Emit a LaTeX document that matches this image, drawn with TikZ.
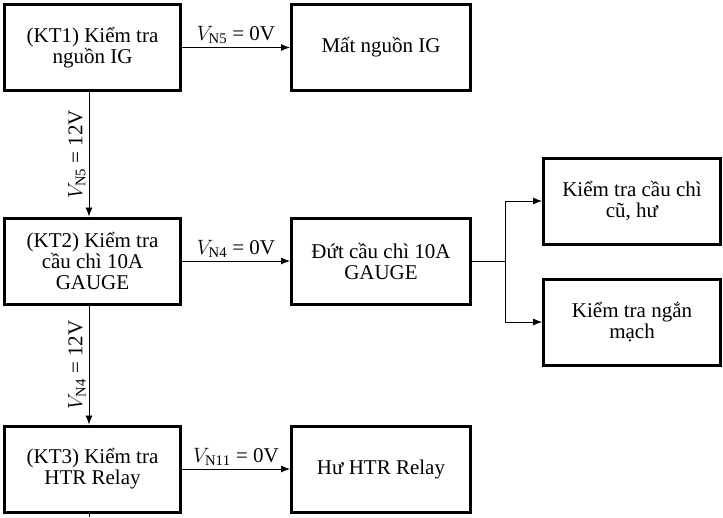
\documentclass[tikz,border=0pt]{standalone}
\usepackage{fontspec}
\setmainfont{Liberation Serif}
\usetikzlibrary{arrows.meta}

\begin{document}
\begin{tikzpicture}[x=1pt, y=-1pt,
  hop/.style={draw, line width=3pt, minimum width=177pt, minimum height=86pt, align=center, inner sep=2pt, font=\fontsize{21}{21}\selectfont},
  mui/.style={-{Latex[length=9pt,width=7pt]}, line width=0.8pt},
  nhan/.style={font=\fontsize{21}{21}\selectfont, inner sep=3pt}]
  \useasboundingbox (0,0) rectangle (723,517);
  % Cot kiem tra
  \node[hop, minimum width=176pt] (kt1) at (92.5,47.5) {(KT1) Kiểm tra\\nguồn IG};
  \node[hop, minimum width=176pt] (kt2) at (92.5,261) {(KT2) Kiểm tra\\cầu chì 10A\\GAUGE};
  \node[hop, minimum width=176pt] (kt3) at (92.5,469) {(KT3) Kiểm tra\\HTR Relay};
  % Ket qua
  \node[hop, minimum width=179pt] (mat) at (381,47.5) {Mất nguồn IG};
  \node[hop, minimum width=179pt] (dut) at (381,261) {Đứt cầu chì 10A\\GAUGE};
  \node[hop, minimum width=179pt] (htr) at (381,469) {Hư HTR Relay};
  \node[hop] (cu) at (632,201) {Kiểm tra cầu chì\\cũ, hư};
  \node[hop] (ngan) at (632,322) {Kiểm tra ngắn\\mạch};
  % Mui ten
  \draw[mui] (kt1) -- node[nhan, midway, above] {$V_{\mathrm{N5}}$ = 0V} (mat);
  \draw[mui] (kt2) -- node[nhan, midway, above] {$V_{\mathrm{N4}}$ = 0V} (dut);
  \draw[mui] (kt3) -- node[nhan, midway, above] {$V_{\mathrm{N11}}$ = 0V} (htr);
  \draw[mui] ([xshift=-3.5pt]kt1.south) -- node[nhan, midway, rotate=90, anchor=south] {$V_{\mathrm{N5}}$ = 12V} ([xshift=-3.5pt]kt2.north);
  \draw[mui] ([xshift=-3.5pt]kt2.south) -- node[nhan, midway, rotate=90, anchor=south] {$V_{\mathrm{N4}}$ = 12V} ([xshift=-3.5pt]kt3.north);
  \coordinate (re) at (505,261);
  \draw[line width=0.8pt] (dut) -- (re);
  \draw[mui] (re) |- (cu);
  \draw[mui] (re) |- (ngan);
  \coordinate (cuoi) at (89,517);
  \draw[line width=0.8pt] ([xshift=-3.5pt]kt3.south) -- (cuoi);
\end{tikzpicture}
\end{document}
